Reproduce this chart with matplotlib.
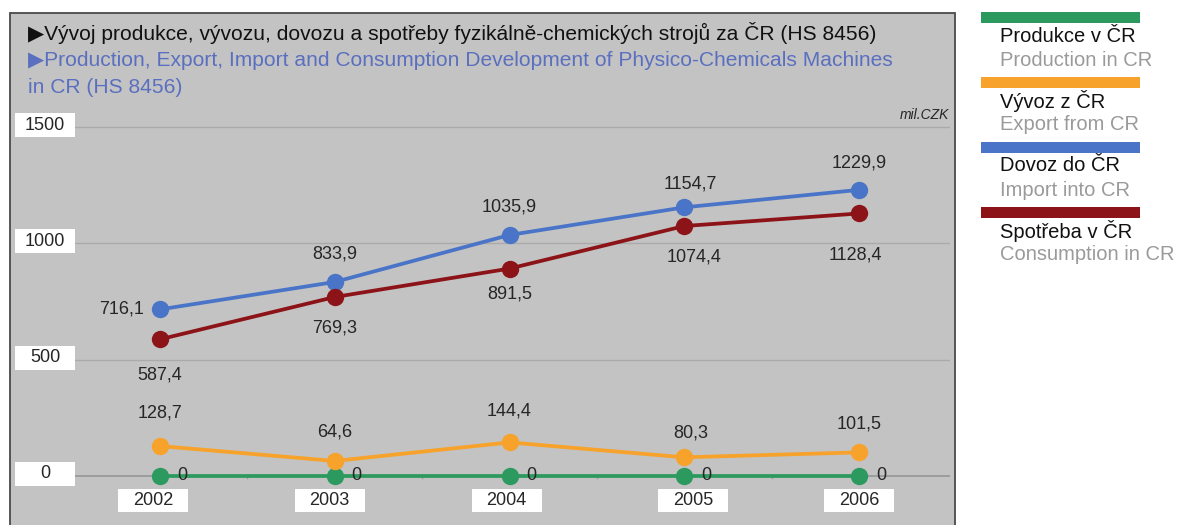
import matplotlib
matplotlib.use("Agg")
import matplotlib.pyplot as plt
import matplotlib.transforms as mtransforms
from matplotlib.patches import Rectangle

plt.rcParams['font.family'] = ['Liberation Sans', 'DejaVu Sans']

# ---------------- data ----------------
years = ["2002", "2003", "2004", "2005", "2006"]
production = [0, 0, 0, 0, 0]
export = [128.7, 64.6, 144.4, 80.3, 101.5]
imports = [716.1, 833.9, 1035.9, 1154.7, 1229.9]
consumption = [587.4, 769.3, 891.5, 1074.4, 1128.4]
y_ticks = [0, 500, 1000, 1500]

legend_cz = ["Produkce v ČR", "Vývoz z ČR", "Dovoz do ČR", "Spotřeba v ČR"]
legend_en = ["Production in CR", "Export from CR", "Import into CR", "Consumption in CR"]
title_cz = "\u25B6Vývoj produkce, vývozu, dovozu a spotřeby fyzikálně-chemických strojů za ČR (HS 8456)"
title_en1 = "\u25B6Production, Export, Import and Consumption Development of Physico-Chemicals Machines"
title_en2 = "in CR (HS 8456)"
unit = "mil.CZK"

# ---------------- style ----------------
W, H = 1177, 525
def fx(x): return x / W
def fy(y): return 1 - y / H

c_green = "#2c9a5e"
c_orange = "#f7a22a"
c_blue = "#4a74c8"
c_red = "#8c1418"
panel = "#c3c3c3"
txt = "#262626"

fig = plt.figure(figsize=(W / 100, H / 100), dpi=100)
fig.patch.set_facecolor("white")

# panel background
fig.patches.append(Rectangle((fx(10), fy(530)), fx(955) - fx(10), fy(13) - fy(530),
                             transform=fig.transFigure, facecolor=panel,
                             edgecolor="#4a4a4a", linewidth=1.3, zorder=-10))

# axes
scale = 349 / 1500.0  # px per unit
ax = fig.add_axes([fx(75), 0, (950 - 75) / W, (525 - 115) / H])
ax.set_zorder(5)
ax.set_facecolor("none")
ax.set_ylim((476 - 525) / scale, (476 - 115) / scale)
ax.set_xlim(0 - 85 / 174.75, 4 + 91 / 174.75)
for s in ax.spines.values():
    s.set_visible(False)
ax.set_xticks([])
ax.set_yticks([])
for v in y_ticks[1:]:
    ax.axhline(v, color="#aaaaaa", lw=1.0, zorder=1)
ax.axhline(0, color="#999999", lw=1.3, zorder=1)
xs = list(range(len(years)))
for i in range(len(years) - 1):
    ax.plot([i + 0.5, i + 0.5], [0, -10], color="#999999", lw=1, zorder=1)

series = [
    (production, c_green),
    (export, c_orange),
    (imports, c_blue),
    (consumption, c_red),
]
for vals, col in series:
    ax.plot(xs, vals, color=col, lw=2.7, marker="o", markersize=12.5,
            markeredgewidth=0, zorder=3, solid_capstyle="round")

pt = 0.72  # points per pixel
lab_kw = dict(textcoords="offset points", ha="center", va="center",
              fontsize=13, color=txt, zorder=5)
off_export = [(0, 33), (0, 29), (0, 31), (6, 24), (0, 28)]
off_import = [(-38, 0), (0, 28), (0, 28), (6, 23), (0, 27)]
off_cons = [(0, -36), (0, -31), (0, -25), (10, -31), (-4, -42)]
for i in xs:
    ax.annotate("%g" % production[i], (i, production[i]),
                xytext=(22 * pt, 0), **lab_kw)
    ax.annotate(f"{export[i]:.1f}".replace(".", ","), (i, export[i]),
                xytext=(off_export[i][0] * pt, off_export[i][1] * pt), **lab_kw)
    ax.annotate(f"{imports[i]:.1f}".replace(".", ","), (i, imports[i]),
                xytext=(off_import[i][0] * pt, off_import[i][1] * pt), **lab_kw)
    ax.annotate(f"{consumption[i]:.1f}".replace(".", ","), (i, consumption[i]),
                xytext=(off_cons[i][0] * pt, off_cons[i][1] * pt), **lab_kw)

# y tick label boxes
ytr = mtransforms.blended_transform_factory(fig.transFigure, ax.transData)
for v in y_ticks:
    fig.patches.append(Rectangle((fx(15), v - 10 / scale), 60 / W, 24 / scale,
                                 transform=ytr, facecolor="white", edgecolor="none", zorder=2))
    fig.text(fx(45), v + 2 / scale, str(v), transform=ytr, ha="center", va="center",
             fontsize=13, color=txt, zorder=3)

# x tick label boxes
xtr = mtransforms.blended_transform_factory(ax.transData, fig.transFigure)
box_dx = [-7, -5, -3, 9, 0]
for i, lab in enumerate(years):
    cx = i + box_dx[i] / 174.75
    ax.add_patch(Rectangle((cx - 35 / 174.75, fy(512)), 70 / 174.75, 23 / H,
                           transform=xtr, facecolor="white", edgecolor="none",
                           zorder=2, clip_on=False))
    ax.text(cx, fy(500.5), lab, transform=xtr, ha="center", va="center",
            fontsize=13, color=txt, zorder=3, clip_on=False)

# unit
fig.text(fx(949), fy(115), unit, ha="right", va="center", fontsize=10,
         style="italic", color=txt)

# titles
fig.text(fx(28), fy(33), title_cz, ha="left", va="center", fontsize=15.1, color="#111111")
fig.text(fx(28), fy(61), title_en1, ha="left", va="center", fontsize=15.1, color="#5a6fc0")
fig.text(fx(28), fy(88), title_en2, ha="left", va="center", fontsize=15.1, color="#5a6fc0")

# legend
leg_cols = [c_green, c_orange, c_blue, c_red]
bar_y = [12, 77, 142, 207]
for k in range(4):
    fig.patches.append(Rectangle((fx(981), fy(bar_y[k] + 11)), 159 / W, 11 / H,
                                 transform=fig.transFigure, facecolor=leg_cols[k],
                                 edgecolor="none"))
    fig.text(fx(1000), fy(bar_y[k] + 24), legend_cz[k], ha="left", va="center",
             fontsize=14.5, color="#111111")
    fig.text(fx(1000), fy(bar_y[k] + 48), legend_en[k], ha="left", va="center",
             fontsize=14.5, color="#9a9a9a")

fig.savefig("out.png", dpi=100, facecolor="white")
